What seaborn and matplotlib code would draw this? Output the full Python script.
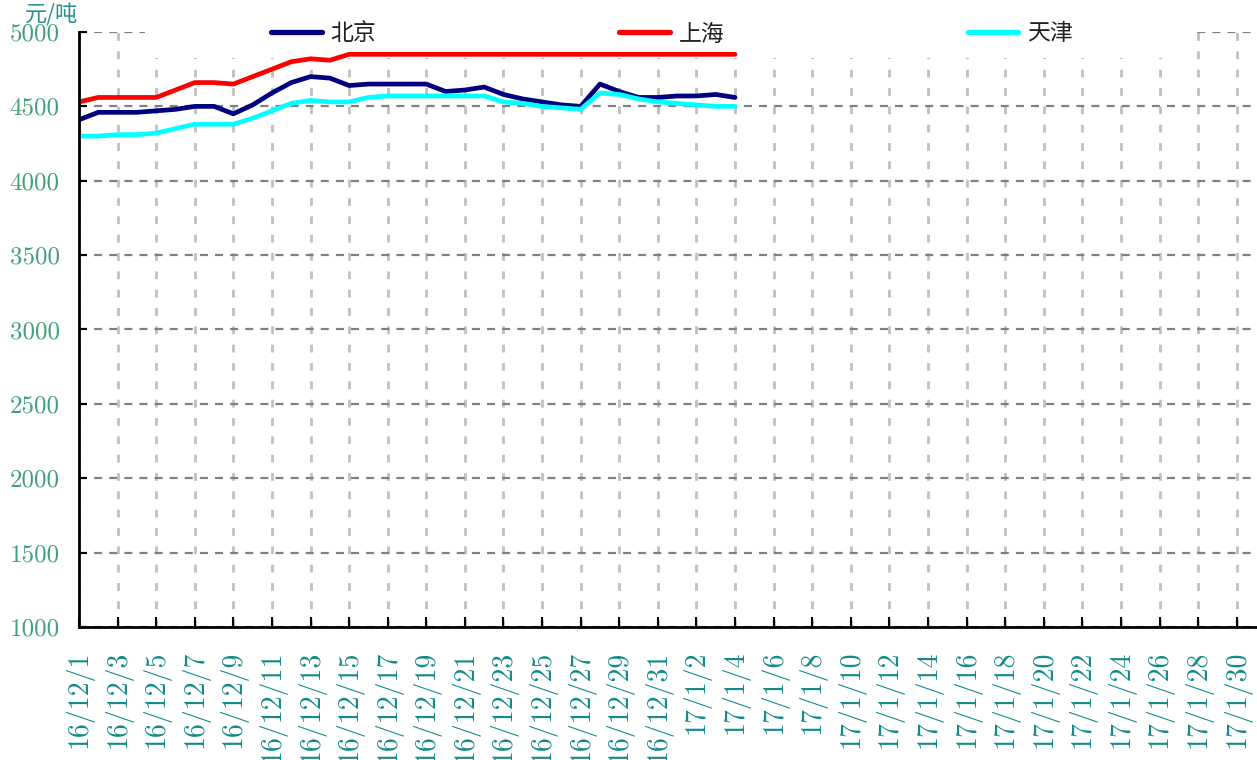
import numpy as np
import pandas as pd
import matplotlib
matplotlib.use("Agg")
import matplotlib.pyplot as plt
import seaborn as sns
from matplotlib.patches import Rectangle
from matplotlib.lines import Line2D

# ---- data (day index 0 = 2016-12-01) ----
days = list(range(35))
beijing = [4410, 4460, 4460, 4460, 4470, 4480, 4500, 4500, 4450, 4510,
           4590, 4660, 4700, 4690, 4640, 4650, 4650, 4650, 4650, 4600,
           4610, 4630, 4580, 4550, 4530, 4510, 4500, 4650, 4600, 4560,
           4560, 4570, 4570, 4580, 4560]
shanghai = [4530, 4560, 4560, 4560, 4560, 4610, 4660, 4660, 4650, 4700,
            4750, 4800, 4820, 4810, 4850, 4850, 4850, 4850, 4850, 4850,
            4850, 4850, 4850, 4850, 4850, 4850, 4850, 4850, 4850, 4850,
            4850, 4850, 4850, 4850, 4850]
tianjin = [4300, 4300, 4310, 4310, 4320, 4350, 4380, 4380, 4380, 4420,
           4470, 4520, 4540, 4530, 4530, 4560, 4570, 4570, 4570, 4570,
           4570, 4570, 4530, 4520, 4500, 4490, 4480, 4590, 4580, 4550,
           4530, 4520, 4510, 4500, 4500]
series_names = ["北京", "上海", "天津"]
series_colors = ["#000080", "#FF0000", "#00FFFF"]

tick_labels = ["16/12/1", "16/12/3", "16/12/5", "16/12/7", "16/12/9",
               "16/12/11", "16/12/13", "16/12/15", "16/12/17", "16/12/19",
               "16/12/21", "16/12/23", "16/12/25", "16/12/27", "16/12/29",
               "16/12/31", "17/1/2", "17/1/4", "17/1/6", "17/1/8",
               "17/1/10", "17/1/12", "17/1/14", "17/1/16", "17/1/18",
               "17/1/20", "17/1/22", "17/1/24", "17/1/26", "17/1/28",
               "17/1/30"]
y_ticks = [1000, 1500, 2000, 2500, 3000, 3500, 4000, 4500, 5000]
unit_label = "元/吨"

df = pd.DataFrame({
    "day": days * 3,
    "price": beijing + shanghai + tianjin,
    "city": [series_names[0]] * 35 + [series_names[1]] * 35 + [series_names[2]] * 35,
})

sns.set_theme(style="white")
plt.rcParams["font.family"] = ["Noto Sans CJK SC", "DejaVu Sans"]

fig = plt.figure(figsize=(12.57, 7.6), dpi=100)
ax = fig.add_axes([79 / 1257, 133 / 760, 1177 / 1257, 595 / 760])

sns.lineplot(data=df, x="day", y="price", hue="city", hue_order=series_names,
             palette=series_colors, linewidth=3.4, ax=ax, legend=False,
             zorder=3)

ax.set_xlim(0, 61)
ax.set_ylim(1000, 5000)
ax.set_xticks(np.arange(0, 61, 2))
ax.set_xticklabels(tick_labels, rotation=90, fontfamily="cmr10",
                   fontsize=20, color="#138a8a")
ax.set_yticks(y_ticks)
ax.set_yticklabels([str(v) for v in y_ticks], fontfamily="cmr10",
                   fontsize=18, color="#45a07a")
ax.set_xlabel("")
ax.set_ylabel("")

ax.tick_params(axis="x", direction="in", length=7, width=1.5, color="black",
               pad=17, bottom=True)
ax.tick_params(axis="y", direction="in", length=6, width=1.5, color="black",
               pad=14, left=True)

ax.set_axisbelow(True)
ax.xaxis.grid(True, color="#c0c0c0", linewidth=2.0, linestyle=(0, (2.8, 3.8)))
ax.yaxis.grid(True, color="#808080", linewidth=1.6, linestyle=(0, (3.6, 3.2)))

for s in ["top", "right"]:
    ax.spines[s].set_visible(False)
for s in ["left", "bottom"]:
    ax.spines[s].set_color("black")
    ax.spines[s].set_linewidth(2.0)
    ax.spines[s].set_zorder(4)

# white area behind the legend (hides grid there)
ax.add_patch(Rectangle((66 / 1177, 569 / 595), (1195 - 145) / 1177, 0.06,
                       transform=ax.transAxes, facecolor="white",
                       edgecolor="none", zorder=1, clip_on=False))

handles = [Line2D([0], [0], color=c, linewidth=3.8) for c in series_colors]
leg = ax.legend(handles, series_names, ncol=3, frameon=False,
                loc="center", bbox_to_anchor=((672 - 79) / 1177, (627 - 34) / 595),
                handlelength=2.2, handletextpad=0.4, columnspacing=10.6,
                prop={"family": ["Noto Sans CJK SC"], "size": 16.5})
for t in leg.get_texts():
    t.set_color("#222222")

fig.text(25 / 1257, 1 - 15 / 760, unit_label, color="#2a9090", fontsize=16,
         va="center", ha="left", family=["Noto Sans CJK SC", "DejaVu Sans"])

fig.savefig("out.png", dpi=100)
